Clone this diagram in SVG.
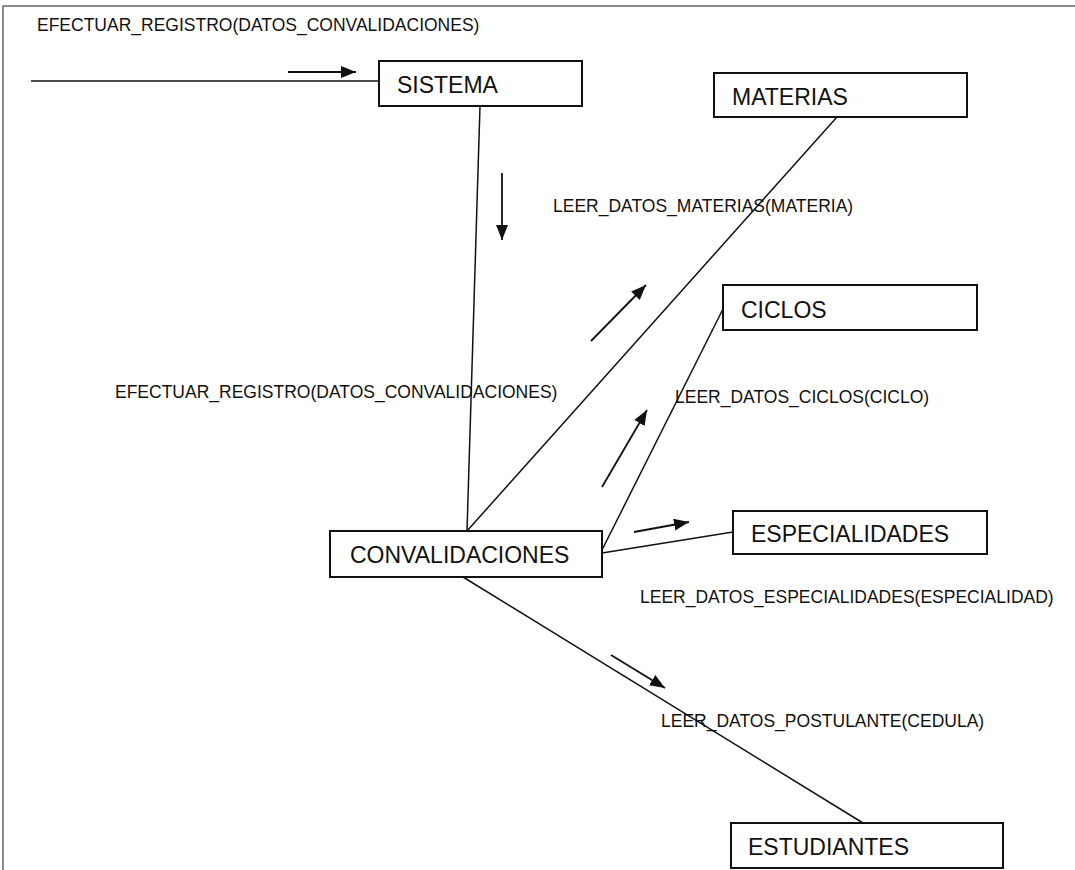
<svg xmlns="http://www.w3.org/2000/svg" width="1075" height="870" viewBox="0 0 1075 870">
  <style>
    .box { fill: #ffffff; stroke: #111111; stroke-width: 2; }
    .node-label { font-family: "Liberation Sans", Arial, sans-serif; font-size: 23px; fill: #111111; }
    .msg { font-family: "Liberation Sans", Arial, sans-serif; font-size: 17.5px; fill: #111111; }
    .link { stroke: #111111; stroke-width: 1.5; fill: none; }
    .flow { stroke: #111111; stroke-width: 1.8; fill: none; marker-end: url(#head); }
    .frame { stroke: #666666; stroke-width: 1.5; fill: none; }
  </style>
  <defs>
    <marker id="head" markerUnits="userSpaceOnUse" markerWidth="16" markerHeight="12" refX="15" refY="6" orient="auto">
      <path d="M0,0 L15,6 L0,12 Z" fill="#111111"/>
    </marker>
  </defs>

  <rect width="1075" height="870" fill="#ffffff"/>

  <!-- page frame -->
  <path class="frame" d="M3,870 L3,6 L1075,6"/>

  <!-- message labels -->
  <g id="messages">
    <text class="msg" x="37" y="31">EFECTUAR_REGISTRO(DATOS_CONVALIDACIONES)</text>
    <text class="msg" x="115" y="398">EFECTUAR_REGISTRO(DATOS_CONVALIDACIONES)</text>
    <text class="msg" x="553" y="212">LEER_DATOS_MATERIAS(MATERIA)</text>
    <text class="msg" x="675" y="403">LEER_DATOS_CICLOS(CICLO)</text>
    <text class="msg" x="640" y="603">LEER_DATOS_ESPECIALIDADES(ESPECIALIDAD)</text>
    <text class="msg" x="661" y="727">LEER_DATOS_POSTULANTE(CEDULA)</text>
  </g>

  <!-- links and message arrows -->
  <g id="connectors">
    <line class="link" x1="31" y1="81" x2="378" y2="81"/>
    <line class="link" x1="480" y1="106" x2="467" y2="531"/>
    <line class="link" x1="837" y1="117" x2="467" y2="531"/>
    <line class="link" x1="723" y1="309" x2="602" y2="550"/>
    <line class="link" x1="602" y1="553" x2="733" y2="532"/>
    <line class="link" x1="463" y1="577" x2="863" y2="823"/>

    <line class="flow" x1="288" y1="72" x2="356" y2="72"/>
    <line class="flow" x1="502" y1="173" x2="502" y2="240"/>
    <line class="flow" x1="591" y1="341" x2="646" y2="285"/>
    <line class="flow" x1="602" y1="487" x2="647" y2="410"/>
    <line class="flow" x1="634" y1="532" x2="689" y2="522"/>
    <line class="flow" x1="611" y1="655" x2="665" y2="688"/>
  </g>

  <g id="sistema">
    <rect class="box" x="379" y="61" width="203" height="45"/>
    <text class="node-label" x="397" y="93">SISTEMA</text>
  </g>
  <g id="materias">
    <rect class="box" x="714" y="73" width="253" height="44"/>
    <text class="node-label" x="732" y="105">MATERIAS</text>
  </g>
  <g id="ciclos">
    <rect class="box" x="723" y="285" width="254" height="45"/>
    <text class="node-label" x="741" y="318">CICLOS</text>
  </g>
  <g id="convalidaciones">
    <rect class="box" x="330" y="531" width="272" height="46"/>
    <text class="node-label" x="350" y="563">CONVALIDACIONES</text>
  </g>
  <g id="especialidades">
    <rect class="box" x="733" y="511" width="254" height="43"/>
    <text class="node-label" x="751" y="542">ESPECIALIDADES</text>
  </g>
  <g id="estudiantes">
    <rect class="box" x="731" y="823" width="272" height="45"/>
    <text class="node-label" x="748" y="855">ESTUDIANTES</text>
  </g>
</svg>
